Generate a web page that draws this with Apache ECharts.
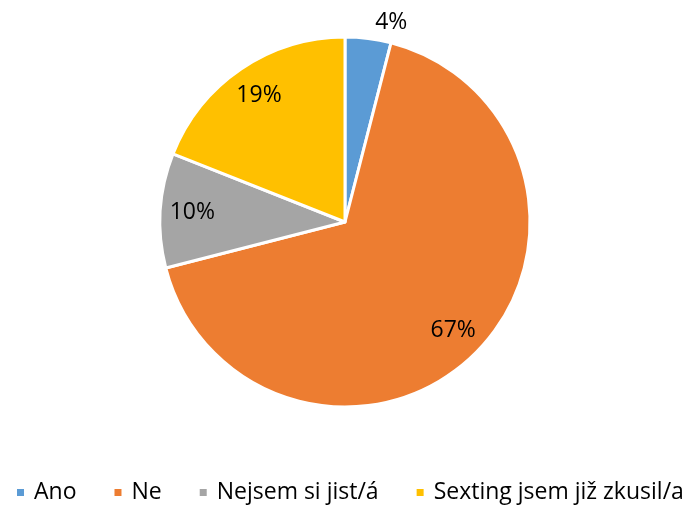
<!DOCTYPE html>
<html>
<head>
<meta charset="utf-8">
<script src="https://cdn.jsdelivr.net/npm/echarts@6/dist/echarts.min.js"></script>
<style>
  html, body { margin: 0; padding: 0; background: #fff; }
  #chart { width: 688px; height: 507px; }
</style>
</head>
<body>
<div id="chart"></div>
<script>
// kategorie a hodnoty (%)
const categories = ['Ano', 'Ne', 'Nejsem si jist/á', 'Sexting jsem již zkusil/a']
const values = [4, 67, 10, 19]
const colors = ['#5B9BD5', '#ED7D31', '#A5A5A5', '#FFC000']

const font = 'Open Sans, Liberation Sans, sans-serif'
const chart = echarts.init(document.getElementById('chart'))

const pieData = categories.map((name, i) => ({
  name: name,
  value: values[i],
  itemStyle: { color: colors[i] }
}))

// popisky: malý dílek venku, ostatní uvnitř blíže k okraji
const labelData = categories.map((name, i) => ({
  name: name,
  value: values[i],
  label: i === 0 ? { position: 'outside' } : { position: 'inside' }
}))

const option = {
  animation: false,
  legend: {
    bottom: 3,
    left: 15,
    width: 700,
    padding: 0,
    icon: 'rect',
    itemWidth: 9,
    itemHeight: 9,
    itemGap: 36,
    textStyle: { fontFamily: font, fontSize: 23, color: '#000', padding: [0, 0, 0, 4] },
    data: categories
  },
  series: [
    {
      type: 'pie',
      center: [345, 222],
      radius: [0, 185],
      startAngle: 90,
      clockwise: true,
      label: { show: false },
      labelLine: { show: false },
      itemStyle: { borderColor: '#fff', borderWidth: 3 },
      data: pieData
    },
    {
      // neviditelná vrstva jen pro popisky
      type: 'pie',
      center: [345, 222],
      radius: [115, 185],
      startAngle: 90,
      clockwise: true,
      silent: true,
      itemStyle: { color: 'rgba(0,0,0,0)' },
      label: {
        show: true,
        formatter: '{c}%',
        fontFamily: font,
        fontSize: 23,
        color: '#000'
      },
      labelLine: { show: false, length: 16, length2: 0 },
      data: labelData
    }
  ]
}

chart.setOption(option)
</script>
</body>
</html>
